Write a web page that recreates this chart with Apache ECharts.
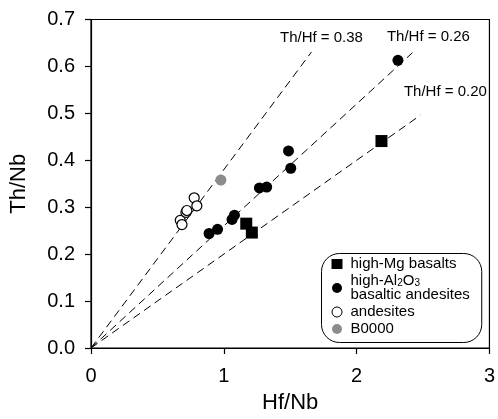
<!DOCTYPE html>
<html>
<head>
<meta charset="utf-8">
<script src="https://cdn.jsdelivr.net/npm/echarts@6/dist/echarts.min.js"></script>
<style>
  html, body { margin: 0; padding: 0; background: #fff; }
  #chart { width: 498px; height: 419px; }
</style>
</head>
<body>
<div id="chart"></div>
<script>
// Th/Nb vs Hf/Nb
const highMgBasalts = [[1.169, 0.265], [1.211, 0.246], [2.187, 0.441]];
const highAlBasAndesites = [
  [0.889, 0.244], [0.953, 0.253], [1.062, 0.274], [1.080, 0.283],
  [1.268, 0.341], [1.323, 0.343], [1.487, 0.420], [1.504, 0.383], [2.311, 0.613]
];
const andesites = [
  [0.672, 0.272], [0.685, 0.263], [0.715, 0.289], [0.722, 0.293],
  [0.777, 0.320], [0.797, 0.303]
];
const b0000 = [[0.978, 0.358]];

// reference Th/Hf ratio lines: ratio and the Hf/Nb value where each line stops
const ratios = [0.38, 0.26, 0.20];
const ratioEnds = [1.66, 2.42, 2.48];
const ratioLabels = ['Th/Hf = 0.38', 'Th/Hf = 0.26', 'Th/Hf = 0.20'];
const ratioLabelOffsets = [[10, -14], [16, -16], [25, -23]];

const xTicks = [0, 1, 2, 3];
const yTicks = [0.0, 0.1, 0.2, 0.3, 0.4, 0.5, 0.6, 0.7];

const AL_NAME = 'high-Al2O3 basaltic andesites';
const FONT = 'Liberation Sans, Arial, sans-serif';

const chart = echarts.init(document.getElementById('chart'), null, { renderer: 'canvas' });

const ratioSeries = ratios.map((r, i) => ({
  type: 'line',
  name: ratioLabels[i],
  data: [[0, 0], [ratioEnds[i], r * ratioEnds[i]]],
  symbol: 'none',
  silent: true,
  z: 1,
  lineStyle: { color: '#000', width: 1, type: [8, 5] },
  markPoint: {
    silent: true,
    symbol: 'circle',
    symbolSize: 0,
    data: [{
      coord: [ratioEnds[i], r * ratioEnds[i]],
      label: {
        show: true,
        formatter: ratioLabels[i],
        position: 'inside',
        offset: ratioLabelOffsets[i],
        color: '#000',
        fontSize: 15,
        fontFamily: FONT
      }
    }]
  }
}));

chart.setOption({
  animation: false,
  backgroundColor: '#fff',
  grid: {
    left: 88, right: 7, top: 19.5, bottom: 68.5,
    show: true, borderColor: '#000', borderWidth: 1.2, backgroundColor: 'transparent'
  },
  xAxis: {
    type: 'value', min: 0, max: 3, interval: 1,
    name: 'Hf/Nb', nameLocation: 'middle', nameGap: 44,
    nameTextStyle: { color: '#000', fontSize: 22, fontFamily: FONT },
    axisLine: { show: true, onZero: false, lineStyle: { color: '#000', width: 1.2 } },
    axisTick: { show: true, inside: false, length: 6, lineStyle: { color: '#000', width: 1.2 } },
    axisLabel: {
      color: '#000', fontSize: 20, fontFamily: FONT, margin: 18,
      formatter: v => String(xTicks[Math.round(v)])
    },
    splitLine: { show: false }
  },
  yAxis: {
    type: 'value', min: 0, max: 0.7, interval: 0.1,
    name: 'Th/Nb', nameLocation: 'middle', nameGap: 61, nameRotate: 90,
    nameTextStyle: { color: '#000', fontSize: 22, fontFamily: FONT },
    axisLine: { show: true, onZero: false, lineStyle: { color: '#000', width: 1.2 } },
    axisTick: { show: true, inside: false, length: 6, lineStyle: { color: '#000', width: 1.2 } },
    axisLabel: {
      color: '#000', fontSize: 20, fontFamily: FONT, margin: 16,
      formatter: v => yTicks[Math.round(v * 10)].toFixed(1)
    },
    splitLine: { show: false }
  },
  legend: {
    orient: 'vertical',
    left: 321.5, top: 253.5,
    padding: [3, 12, 6, 10],
    itemGap: 2,
    itemWidth: 11, itemHeight: 10,
    borderColor: '#000', borderWidth: 1, borderRadius: 18,
    backgroundColor: '#fff',
    selectedMode: false,
    data: [
      'high-Mg basalts',
      AL_NAME,
      { name: 'andesites', itemStyle: { borderWidth: 1 } },
      { name: 'B0000', textStyle: { lineHeight: 4 } }
    ],
    formatter: name => {
      if (name === AL_NAME) return '{f|high-Al}{s|2}{t|O}{s|3}\n{f|basaltic andesites}';
      if (name === 'B0000') return '{g|B0000}';
      return '{f|' + name + '}';
    },
    textStyle: {
      color: '#000', fontFamily: FONT, fontSize: 15, lineHeight: 14,
      rich: {
        f: { fontSize: 15, lineHeight: 14, fontFamily: FONT, color: '#000', padding: [0, 0, 0, 3] },
        g: { fontSize: 15, lineHeight: 4, fontFamily: FONT, color: '#000', padding: [0, 0, 0, 3] },
        t: { fontSize: 15, lineHeight: 14, fontFamily: FONT, color: '#000' },
        s: { fontSize: 10, lineHeight: 4, fontFamily: FONT, color: '#000', verticalAlign: 'bottom' }
      }
    }
  },
  series: [
    ...ratioSeries,
    {
      type: 'scatter', name: 'high-Mg basalts', data: highMgBasalts,
      symbol: 'rect', symbolSize: 12, z: 5,
      itemStyle: { color: '#000', opacity: 1 }
    },
    {
      type: 'scatter', name: AL_NAME, data: highAlBasAndesites,
      symbol: 'circle', symbolSize: 11, z: 5,
      itemStyle: { color: '#000', opacity: 1 }
    },
    {
      type: 'scatter', name: 'andesites', data: andesites,
      symbol: 'circle', symbolSize: 10, z: 5,
      itemStyle: { color: '#fff', borderColor: '#000', borderWidth: 1.2, opacity: 1 }
    },
    {
      type: 'scatter', name: 'B0000', data: b0000,
      symbol: 'circle', symbolSize: 11, z: 5,
      itemStyle: { color: '#8c8c8c', opacity: 1 }
    }
  ]
});
</script>
</body>
</html>
